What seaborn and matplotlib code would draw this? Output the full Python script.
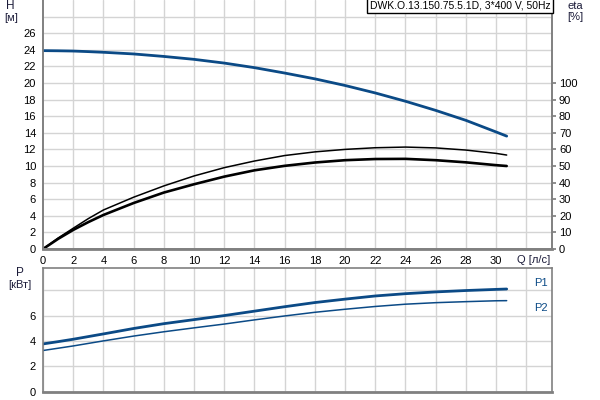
import matplotlib
matplotlib.use("Agg")
import matplotlib.pyplot as plt
import seaborn as sns
import pandas as pd
from matplotlib.ticker import FixedLocator

sns.set_theme(style="white")
plt.rcParams['font.family'] = ['Liberation Sans', 'DejaVu Sans']

# ---- data ----
Q = [0, 1, 2, 3, 4, 6, 8, 10, 12, 14, 16, 18, 20, 22, 24, 26, 28, 30, 30.7]
H = [23.9, 23.88, 23.85, 23.78, 23.7, 23.5, 23.2, 22.85, 22.4, 21.85, 21.2, 20.5, 19.7, 18.8, 17.8, 16.7, 15.5, 14.1, 13.6]
eta_upper = [0, 6.6, 12.5, 18.3, 23.5, 31.2, 38, 44, 49, 53, 56.3, 58.5, 60, 61, 61.4, 60.9, 59.6, 57.6, 56.6]
eta_lower = [0, 6.1, 11.5, 16.2, 20.5, 27.7, 34, 39, 43.6, 47.4, 50.1, 52.1, 53.5, 54.2, 54.3, 53.5, 52.2, 50.5, 50]
P1 = [3.76, 3.94, 4.13, 4.34, 4.55, 4.98, 5.36, 5.68, 6.0, 6.35, 6.7, 7.03, 7.3, 7.55, 7.73, 7.87, 7.98, 8.07, 8.1]
P2 = [3.24, 3.42, 3.6, 3.8, 4.0, 4.38, 4.72, 5.03, 5.33, 5.66, 5.97, 6.26, 6.5, 6.72, 6.9, 7.02, 7.1, 7.17, 7.18]

x_ticks = list(range(0, 31, 2))
h_ticks = list(range(0, 27, 2))
eta_ticks = list(range(0, 101, 10))
p_ticks = [0, 2, 4, 6, 8]
p_labels = ['0', '2', '4', '6', '']
title = "DWK.O.13.150.75.5.1D, 3*400 V, 50Hz"

df = pd.DataFrame({"Q": Q, "H": H, "eta_upper": eta_upper, "eta_lower": eta_lower, "P1": P1, "P2": P2})

BLUE = "#0b4a86"
GRID = "#d4d4d4"
SPINE = "#808080"
TXT = "#1c1c3a"
FS = 8

fig = plt.figure(figsize=(6, 4), dpi=100)
ax2 = fig.add_axes([43/600, 1-249/400, (552-43)/600, 249/400])
ax = fig.add_axes([43/600, 1-249/400, (552-43)/600, 249/400], sharex=ax2)
ax2.yaxis.tick_right()
axp = fig.add_axes([43/600, 1-391.5/400, (552-43)/600, (391.5-268)/400])

XMAX = 33.7
# --- top panel ---
ax2.grid(False)
ax2.set_xticks([])
ax.patch.set_visible(False)
sns.lineplot(data=df, x="Q", y="H", ax=ax, color=BLUE, lw=2.0, legend=False)
sns.lineplot(data=df, x="Q", y="eta_upper", ax=ax2, color="black", lw=1.1, legend=False)
sns.lineplot(data=df, x="Q", y="eta_lower", ax=ax2, color="black", lw=1.9, legend=False)

ax.set_xlim(0, XMAX)
ax.set_ylim(0, 30)
ax2.set_ylim(0, 150)
for a in (ax, ax2):
    a.set_xlabel("")
    a.set_ylabel("")
ax.set_xticks(x_ticks)
ax.set_yticks(h_ticks)
ax.xaxis.set_minor_locator(FixedLocator([32]))
ax.yaxis.set_minor_locator(FixedLocator([28]))
ax2.set_yticks(eta_ticks)
ax2.tick_params(axis="x", which="both", bottom=False, labelbottom=False)
# grid drawn on the back axes (ax2) using ax's positions via explicit lines
for xv in x_ticks[1:] + [32]:
    ax2.axvline(xv, color=GRID, lw=1.0, zorder=0)
for yv in h_ticks[1:] + [28]:
    ax2.axhline(yv * 5, color=GRID, lw=1.0, zorder=0)
ax.tick_params(axis="both", which="major", labelsize=FS, length=3, color=SPINE, pad=2, labelcolor="black")
ax.tick_params(axis="both", which="minor", length=0)
ax2.tick_params(axis="y", labelsize=FS, length=3, color=SPINE, pad=2, labelcolor="black")
for a in (ax, ax2):
    a.spines["top"].set_visible(False)
    for s in ("left", "right", "bottom"):
        a.spines[s].set_color(SPINE)
        a.spines[s].set_linewidth(1.2)
ax.spines["bottom"].set_linewidth(2.0)

ax.text(0.997, 0.998, title, transform=ax.transAxes, ha="right", va="top", fontsize=7.5,
        color="black", bbox=dict(boxstyle="square,pad=0.25", fc="white", ec="black", lw=1.0), zorder=10)

# axis labels as text
fig.text(10/600, 1-6/400, "H", fontsize=FS+0.5, color=TXT, ha="center", va="center")
fig.text(11/600, 1-18/400, "[м]", fontsize=FS, color=TXT, ha="center", va="center")
fig.text(575/600, 1-6/400, "eta", fontsize=FS, color=TXT, ha="center", va="center")
fig.text(575/600, 1-17/400, "[%]", fontsize=FS, color=TXT, ha="center", va="center")
fig.text(534/600, 1-260/400, "Q [л/с]", fontsize=FS, color=TXT, ha="center", va="center")
fig.text(20/600, 1-273/400, "P", fontsize=FS+0.5, color=TXT, ha="center", va="center")
fig.text(20/600, 1-285/400, "[кВт]", fontsize=FS, color=TXT, ha="center", va="center")

# --- bottom panel ---
sns.lineplot(data=df, x="Q", y="P1", ax=axp, color=BLUE, lw=2.0, legend=False)
sns.lineplot(data=df, x="Q", y="P2", ax=axp, color=BLUE, lw=1.1, legend=False)
axp.set_xlim(0, XMAX)
axp.set_ylim(0, 9.76)
axp.set_xlabel("")
axp.set_ylabel("")
axp.set_xticks(x_ticks + [32])
axp.set_xticklabels([])
axp.set_yticks(p_ticks)
axp.set_yticklabels(p_labels)
axp.grid(True, color=GRID, lw=1.0)
axp.set_axisbelow(True)
axp.tick_params(axis="x", length=0)
axp.tick_params(axis="y", labelsize=FS, length=3, color=SPINE, pad=2, labelcolor="black")
for s in axp.spines.values():
    s.set_color(SPINE)
    s.set_linewidth(1.2)
axp.spines["bottom"].set_linewidth(2.0)
fig.text(541/600, 1-283/400, "P1", fontsize=FS, color=BLUE, ha="center", va="center")
fig.text(541/600, 1-308/400, "P2", fontsize=FS, color=BLUE, ha="center", va="center")

fig.savefig("out.png", dpi=100)
